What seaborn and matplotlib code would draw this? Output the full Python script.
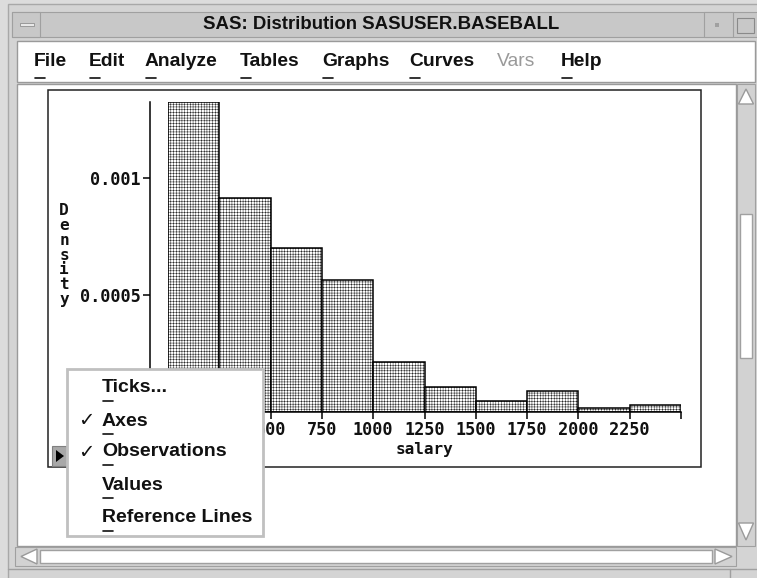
import matplotlib
matplotlib.use("Agg")
import matplotlib.pyplot as plt
import numpy as np
import pandas as pd
import seaborn as sns
from matplotlib.patches import Rectangle, Polygon
from matplotlib.lines import Line2D

# ---------------- data ----------------
bin_edges = [0, 250, 500, 750, 1000, 1250, 1500, 1750, 2000, 2250, 2500]
bin_mid = [125, 375, 625, 875, 1125, 1375, 1625, 1875, 2125, 2375]
player_counts = [87, 60, 46, 37, 14, 7, 3, 6, 1, 2]
x_ticks = [0, 250, 500, 750, 1000, 1250, 1500, 1750, 2000, 2250, 2500]
x_tick_labels = ["0", "250", "500", "750", "1000", "1250", "1500", "1750", "2000", "2250", ""]
y_ticks = [0, 0.0005, 0.001]
y_tick_labels = ["", "0.0005", "0.001"]
window_title = "SAS: Distribution SASUSER.BASEBALL"
menu_items = ["File", "Edit", "Analyze", "Tables", "Graphs", "Curves", "Vars", "Help"]
menu_enabled = [True, True, True, True, True, True, False, True]
popup_items = ["Ticks...", "Axes", "Observations", "Values", "Reference Lines"]
popup_checked = [False, True, True, False, False]

df = pd.DataFrame({"salary": bin_mid, "count": player_counts})

W, H = 757, 578
sns.set_theme(style="white")
plt.rcParams["hatch.linewidth"] = 0.3
plt.rcParams["font.family"] = ["DejaVu Sans Mono", "DejaVu Sans"]
plt.rcParams["font.weight"] = "bold"

SANS = ["Liberation Sans", "DejaVu Sans"]

fig = plt.figure(figsize=(W / 100, H / 100), dpi=100)
fig.patch.set_facecolor("#dcdcdc")

# ---------------- window chrome (pixel coordinates) ----------------
bg = fig.add_axes([0, 0, 1, 1], zorder=0)
bg.set_xlim(0, W)
bg.set_ylim(H, 0)
bg.axis("off")

def rect(ax, x0, y0, x1, y1, fc, ec="none", lw=1.0, z=1):
    ax.add_patch(Rectangle((x0, y0), x1 - x0, y1 - y0, facecolor=fc,
                           edgecolor=ec, linewidth=lw, zorder=z))

def line(ax, xs, ys, c, lw=1.0, z=2):
    ax.add_line(Line2D(xs, ys, color=c, linewidth=lw, zorder=z))

# outer frame
rect(bg, 8, 4, W + 2, H + 2, "#d4d4d4", "#a8a8a8", 1.0)
# title bar
rect(bg, 12, 12, W + 2, 37, "#c8c8c8", "#a0a0a0", 0.8)
rect(bg, 12, 12, 40, 37, "#c8c8c8", "#a0a0a0", 0.8)
rect(bg, 20, 23, 34, 26, "#e8e8e8", "#909090", 0.6)
rect(bg, 704, 12, 733, 37, "#c8c8c8", "#a0a0a0", 0.8)
rect(bg, 715, 23, 719, 27, "#a0a0a0", "none")
rect(bg, 737, 18, 754, 33, "#c8c8c8", "#8a8a8a", 0.8)
bg.text(381, 24.5, window_title, ha="center", va="center", fontsize=13.4,
        fontweight="bold", family=SANS, color="#111111", zorder=3)
# menu bar
rect(bg, 17, 41, 755, 82, "white", "#9a9a9a", 1.0)
menu_x = [34, 89, 145, 240, 322, 409, 497, 561]
for name, mx, en in zip(menu_items, menu_x, menu_enabled):
    bg.text(mx, 62, name, ha="left", va="center", fontsize=13.9,
            fontweight="bold" if en else "normal", family=SANS,
            color="#111111" if en else "#9a9a9a", zorder=3)
    if en:
        line(bg, [mx + 1, mx + 11], [77.5, 77.5], "#111111", 1.2, 3)
# content area
rect(bg, 17, 84, 736, 546, "white", "#9a9a9a", 1.0)
# plot frame
rect(bg, 48, 90, 701, 467, "white", "#222222", 1.1)
# vertical scrollbar
rect(bg, 737, 84, 755, 546, "#d2d2d2", "#a0a0a0", 0.8)
rect(bg, 740, 214, 752, 358, "white", "#a0a0a0", 1.0)
bg.add_patch(Polygon([[738.5, 104], [753.5, 104], [746, 89]], closed=True,
                     facecolor="white", edgecolor="#9a9a9a", linewidth=1.0, zorder=3))
bg.add_patch(Polygon([[738.5, 523], [753.5, 523], [746, 540]], closed=True,
                     facecolor="white", edgecolor="#9a9a9a", linewidth=1.0, zorder=3))
# horizontal scrollbar
rect(bg, 15, 547, 736, 566, "#d2d2d2", "#a0a0a0", 0.8)
rect(bg, 40, 550, 712, 563, "white", "#a0a0a0", 1.0)
bg.add_patch(Polygon([[37, 549], [37, 564], [21, 556.5]], closed=True,
                     facecolor="white", edgecolor="#9a9a9a", linewidth=1.0, zorder=3))
bg.add_patch(Polygon([[715, 549], [715, 564], [732, 556.5]], closed=True,
                     facecolor="white", edgecolor="#9a9a9a", linewidth=1.0, zorder=3))
line(bg, [8, W], [569, 569], "#a0a0a0", 1.0)
line(bg, [730, 730], [569, H], "#a0a0a0", 1.0)

# ---------------- histogram ----------------
ax = fig.add_axes([168 / W, 1 - 412 / H, 513 / W, 310 / H], zorder=2)
ax.patch.set_alpha(0)
sns.histplot(data=df, x="salary", weights="count", bins=bin_edges, stat="density",
             ax=ax, color="white", edgecolor="black", linewidth=1.1, alpha=1,
             hatch="++++++")
ax.set_xlim(0, 2500)
ax.set_ylim(0, 0.001325)
ax.set_xticks(x_ticks)
ax.set_xticklabels(x_tick_labels)
ax.set_yticks(y_ticks)
ax.set_yticklabels(y_tick_labels)
ax.tick_params(axis="both", direction="out", length=5, width=1.1, color="black",
               bottom=True, left=True, pad=1.5, labelsize=12.2,
               labelcolor="#111111", labelfontfamily="DejaVu Sans Mono")
sns.despine(ax=ax, offset={"left": 13, "bottom": 0})
for s in ["left", "bottom"]:
    ax.spines[s].set_color("black")
    ax.spines[s].set_linewidth(1.1)
mono = {"family": ["DejaVu Sans Mono"], "weight": "bold", "size": 11.5}
ax.set_xlabel("salary", fontdict=mono, color="#111111", labelpad=2)
ax.set_ylabel("D\ne\nn\ns\ni\nt\ny", fontdict=mono, color="#111111", rotation=0,
              linespacing=0.98, va="center", ha="center")
ax.yaxis.set_label_coords((64 - 168) / 513, (412 - 255) / 310)

# ---------------- popup menu overlay ----------------
ov = fig.add_axes([0, 0, 1, 1], zorder=5)
ov.set_xlim(0, W)
ov.set_ylim(H, 0)
ov.axis("off")
ov.patch.set_alpha(0)
rect(ov, 52, 446, 67, 466, "#a8a8a8", "#808080", 0.8, 4)
ov.add_patch(Polygon([[56, 450], [56, 462], [64, 456]], closed=True,
                     facecolor="black", edgecolor="none", zorder=5))
rect(ov, 67, 369, 263, 536, "white", "#c0c0c0", 2.0, 6)
popup_y = [388, 421, 452, 485, 518]
for name, py, chk in zip(popup_items, popup_y, popup_checked):
    ov.text(102, py, name, ha="left", va="center", fontsize=14, fontweight="bold",
            family=SANS, color="#111111", zorder=7)
    line(ov, [103, 113], [py + 13, py + 13], "#111111", 1.2, 7)
    if chk:
        ov.text(86, py, "\u2713", ha="center", va="center", fontsize=14,
                fontweight="bold", family=["DejaVu Sans"], color="#111111", zorder=7)

fig.savefig("out.png", dpi=100, facecolor=fig.get_facecolor())
